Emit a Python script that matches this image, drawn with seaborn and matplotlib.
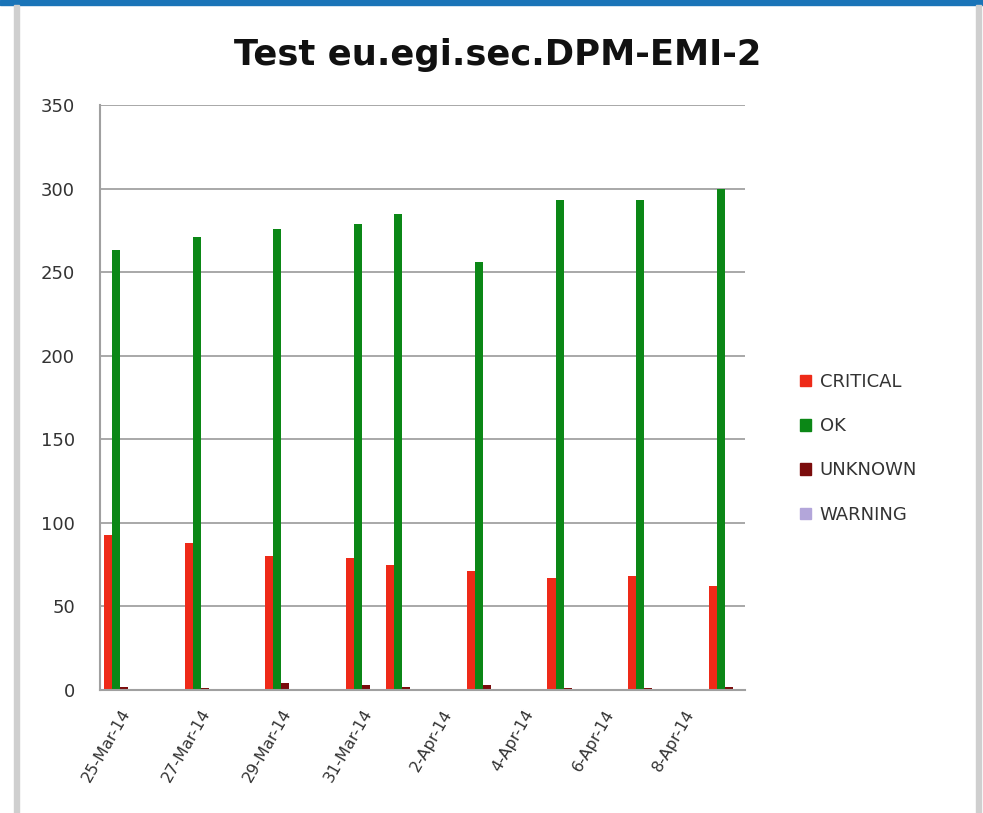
import matplotlib
matplotlib.use("Agg")
import matplotlib.pyplot as plt
import seaborn as sns
import pandas as pd
from matplotlib.patches import Rectangle

# ---- data ----
all_days = ["25-Mar-14", "26-Mar-14", "27-Mar-14", "28-Mar-14", "29-Mar-14", "30-Mar-14",
            "31-Mar-14", "1-Apr-14", "2-Apr-14", "3-Apr-14", "4-Apr-14", "5-Apr-14",
            "6-Apr-14", "7-Apr-14", "8-Apr-14", "9-Apr-14"]
days = ["25-Mar-14", "27-Mar-14", "29-Mar-14", "31-Mar-14", "1-Apr-14",
        "3-Apr-14", "5-Apr-14", "7-Apr-14", "9-Apr-14"]
critical = [93, 88, 80, 79, 75, 71, 67, 68, 62]
ok = [263, 271, 276, 279, 285, 256, 293, 293, 300]
unknown = [2, 1, 4, 3, 2, 3, 1, 1, 2]
warning = [0, 0, 0, 0, 0, 0, 0, 0, 0]
tick_labels = ["25-Mar-14", "27-Mar-14", "29-Mar-14", "31-Mar-14",
               "2-Apr-14", "4-Apr-14", "6-Apr-14", "8-Apr-14"]
series = ["CRITICAL", "OK", "UNKNOWN", "WARNING"]
colors = ["#EE2A18", "#0B8716", "#7B0C0C", "#B3A6DA"]

rows = []
for name, vals in zip(series, [critical, ok, unknown, warning]):
    for d, v in zip(days, vals):
        rows.append({"day": d, "status": name, "value": v})
df = pd.DataFrame(rows)

sns.set_style("white")
plt.rcParams["font.family"] = ["DejaVu Sans"]

fig = plt.figure(figsize=(9.83, 8.13), dpi=100)
ax = fig.add_axes([100 / 983, 1 - 690 / 813, 645 / 983, 585 / 813])

sns.barplot(data=df, x="day", y="value", hue="status", order=all_days,
            hue_order=series, palette=colors, width=0.8, ax=ax,
            saturation=1, errorbar=None, linewidth=0)

ax.set_ylim(0, 350)
ax.set_xlim(-0.5, 15.5)
ax.set_yticks(range(0, 351, 50))
ax.yaxis.grid(True, color="#999999", linewidth=1.2)
ax.set_axisbelow(True)
ax.set_xticks(range(0, 16, 2))
ax.set_xticklabels(tick_labels, rotation=60, ha="right", va="top",
                   rotation_mode="anchor", fontsize=11.5, color="#333333")
ax.tick_params(axis="y", labelsize=13, colors="#333333", pad=18, length=0)
ax.tick_params(axis="x", pad=12, length=0)
ax.set_xlabel("")
ax.set_ylabel("")
for s in ["top", "right"]:
    ax.spines[s].set_visible(False)
for s in ["left", "bottom"]:
    ax.spines[s].set_color("#a0a0a0")
    ax.spines[s].set_linewidth(1.5)

handles = [Rectangle((0, 0), 1, 1, color=c) for c in colors]
ax.legend(handles, series, loc="center left", bbox_to_anchor=(1.085, 0.413),
          frameon=False, fontsize=13, handlelength=0.6, handleheight=0.6,
          handletextpad=0.5, labelspacing=1.45, labelcolor="#333333",
          borderaxespad=0, borderpad=0)

fig.text(0.506, 1 - 55 / 813, "Test eu.egi.sec.DPM-EMI-2", ha="center", va="center",
         fontsize=25.5, fontweight="bold", color="#111111")

# frame decorations
fig.add_artist(Rectangle((0, 1 - 5 / 813), 1, 5 / 813, transform=fig.transFigure,
                         color="#1a74b8", zorder=10))
fig.add_artist(Rectangle((14 / 983, 0), 5 / 983, 1 - 5 / 813, transform=fig.transFigure,
                         color="#cfcfcf", zorder=10))
fig.add_artist(Rectangle((976 / 983, 0), 5 / 983, 1 - 5 / 813, transform=fig.transFigure,
                         color="#cfcfcf", zorder=10))

fig.savefig("out.png", dpi=100, facecolor="white")
